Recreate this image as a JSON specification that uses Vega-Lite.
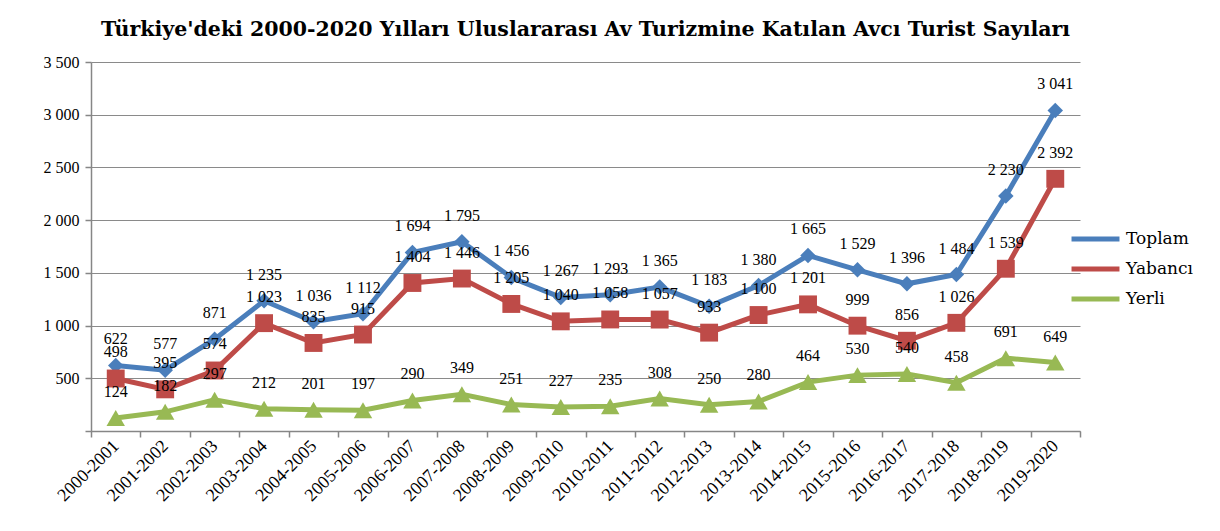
{
  "$schema": "https://vega.github.io/schema/vega-lite/v6.json",
  "autosize": "none",
  "width": 989,
  "height": 369,
  "padding": {"left": 91, "top": 62, "right": 140, "bottom": 100},
  "background": "white",
  "title": {
    "text": "Türkiye'deki 2000-2020 Yılları Uluslararası Av Turizmine Katılan Avcı Turist Sayıları",
    "font": "DejaVu Serif",
    "fontSize": 20.5,
    "fontWeight": "bold",
    "color": "#000000",
    "anchor": "middle",
    "offset": 14
  },
  "data": {
    "values": [
      {"season": "2000-2001", "series": "Toplam", "value": 622},
      {"season": "2001-2002", "series": "Toplam", "value": 577},
      {"season": "2002-2003", "series": "Toplam", "value": 871},
      {"season": "2003-2004", "series": "Toplam", "value": 1235},
      {"season": "2004-2005", "series": "Toplam", "value": 1036},
      {"season": "2005-2006", "series": "Toplam", "value": 1112},
      {"season": "2006-2007", "series": "Toplam", "value": 1694},
      {"season": "2007-2008", "series": "Toplam", "value": 1795},
      {"season": "2008-2009", "series": "Toplam", "value": 1456},
      {"season": "2009-2010", "series": "Toplam", "value": 1267},
      {"season": "2010-2011", "series": "Toplam", "value": 1293},
      {"season": "2011-2012", "series": "Toplam", "value": 1365},
      {"season": "2012-2013", "series": "Toplam", "value": 1183},
      {"season": "2013-2014", "series": "Toplam", "value": 1380},
      {"season": "2014-2015", "series": "Toplam", "value": 1665},
      {"season": "2015-2016", "series": "Toplam", "value": 1529},
      {"season": "2016-2017", "series": "Toplam", "value": 1396},
      {"season": "2017-2018", "series": "Toplam", "value": 1484},
      {"season": "2018-2019", "series": "Toplam", "value": 2230},
      {"season": "2019-2020", "series": "Toplam", "value": 3041},
      {"season": "2000-2001", "series": "Yabancı", "value": 498},
      {"season": "2001-2002", "series": "Yabancı", "value": 395},
      {"season": "2002-2003", "series": "Yabancı", "value": 574},
      {"season": "2003-2004", "series": "Yabancı", "value": 1023},
      {"season": "2004-2005", "series": "Yabancı", "value": 835},
      {"season": "2005-2006", "series": "Yabancı", "value": 915},
      {"season": "2006-2007", "series": "Yabancı", "value": 1404},
      {"season": "2007-2008", "series": "Yabancı", "value": 1446},
      {"season": "2008-2009", "series": "Yabancı", "value": 1205},
      {"season": "2009-2010", "series": "Yabancı", "value": 1040},
      {"season": "2010-2011", "series": "Yabancı", "value": 1058},
      {"season": "2011-2012", "series": "Yabancı", "value": 1057},
      {"season": "2012-2013", "series": "Yabancı", "value": 933},
      {"season": "2013-2014", "series": "Yabancı", "value": 1100},
      {"season": "2014-2015", "series": "Yabancı", "value": 1201},
      {"season": "2015-2016", "series": "Yabancı", "value": 999},
      {"season": "2016-2017", "series": "Yabancı", "value": 856},
      {"season": "2017-2018", "series": "Yabancı", "value": 1026},
      {"season": "2018-2019", "series": "Yabancı", "value": 1539},
      {"season": "2019-2020", "series": "Yabancı", "value": 2392},
      {"season": "2000-2001", "series": "Yerli", "value": 124},
      {"season": "2001-2002", "series": "Yerli", "value": 182},
      {"season": "2002-2003", "series": "Yerli", "value": 297},
      {"season": "2003-2004", "series": "Yerli", "value": 212},
      {"season": "2004-2005", "series": "Yerli", "value": 201},
      {"season": "2005-2006", "series": "Yerli", "value": 197},
      {"season": "2006-2007", "series": "Yerli", "value": 290},
      {"season": "2007-2008", "series": "Yerli", "value": 349},
      {"season": "2008-2009", "series": "Yerli", "value": 251},
      {"season": "2009-2010", "series": "Yerli", "value": 227},
      {"season": "2010-2011", "series": "Yerli", "value": 235},
      {"season": "2011-2012", "series": "Yerli", "value": 308},
      {"season": "2012-2013", "series": "Yerli", "value": 250},
      {"season": "2013-2014", "series": "Yerli", "value": 280},
      {"season": "2014-2015", "series": "Yerli", "value": 464},
      {"season": "2015-2016", "series": "Yerli", "value": 530},
      {"season": "2016-2017", "series": "Yerli", "value": 540},
      {"season": "2017-2018", "series": "Yerli", "value": 458},
      {"season": "2018-2019", "series": "Yerli", "value": 691},
      {"season": "2019-2020", "series": "Yerli", "value": 649}
    ]
  },
  "encoding": {
    "x": {
      "field": "season",
      "type": "nominal",
      "sort": null,
      "bandPosition": 0.5,
      "scale": {"type": "band", "paddingInner": 0, "paddingOuter": 0},
      "axis": {
        "title": null,
        "labelAngle": -45,
        "labelAlign": "right",
        "labelBaseline": "middle",
        "labelFont": "Liberation Serif",
        "labelFontSize": 18,
        "labelColor": "#000000",
        "labelPadding": 6,
        "tickBand": "extent",
        "tickSize": 6,
        "tickColor": "#868686",
        "domainColor": "#868686",
        "domainWidth": 1.5,
        "tickWidth": 1.5,
        "grid": false
      }
    },
    "y": {
      "field": "value",
      "type": "quantitative",
      "scale": {"domain": [0, 3500], "nice": false},
      "axis": {
        "title": null,
        "values": [0, 500, 1000, 1500, 2000, 2500, 3000, 3500],
        "format": ",d",
        "labelExpr": "datum.value == 0 ? '' : datum.label",
        "labelFont": "Liberation Serif",
        "labelFontSize": 16,
        "labelColor": "#000000",
        "labelPadding": 6,
        "tickSize": 6,
        "tickColor": "#868686",
        "tickWidth": 1.5,
        "domainColor": "#868686",
        "domainWidth": 1.5,
        "grid": true,
        "gridColor": "#8a8a8a",
        "gridWidth": 1.2
      }
    }
  },
  "layer": [
    {
      "mark": {"type": "line", "strokeWidth": 5},
      "encoding": {
        "color": {
          "field": "series",
          "type": "nominal",
          "scale": {"domain": ["Toplam", "Yabancı", "Yerli"], "range": ["#4a7ebb", "#be4b48", "#98b954"]},
          "legend": {
            "title": null,
            "orient": "none",
            "legendX": 978,
            "legendY": 162,
            "padding": 0,
            "symbolType": "stroke",
            "symbolSize": 2300,
            "symbolStrokeWidth": 5,
            "clipHeight": 30,
            "labelFont": "DejaVu Serif",
            "labelFontSize": 17,
            "labelColor": "#000000",
            "labelOffset": 4,
            "rowPadding": 0
          }
        }
      }
    },
    {
      "transform": [{"filter": "datum.series == 'Toplam'"}],
      "mark": {"type": "point", "filled": true, "opacity": 1, "shape": "diamond", "size": 240, "color": "#4a7ebb"}
    },
    {
      "transform": [{"filter": "datum.series == 'Yabancı'"}],
      "mark": {"type": "point", "filled": true, "opacity": 1, "shape": "square", "size": 320, "color": "#be4b48"}
    },
    {
      "transform": [{"filter": "datum.series == 'Yerli'"}],
      "mark": {"type": "point", "filled": true, "opacity": 1, "shape": "triangle-up", "size": 340, "color": "#98b954"}
    },
    {
      "mark": {"type": "text", "dy": -26, "font": "Liberation Serif", "fontSize": 16, "color": "#000000", "baseline": "middle", "align": "center"},
      "encoding": {
        "text": {"field": "value", "type": "quantitative", "format": ",d"}
      }
    }
  ],
  "config": {
    "view": {"stroke": null},
    "locale": {
      "number": {"decimal": ",", "thousands": " ", "grouping": [3], "currency": ["", ""]}
    }
  }
}
